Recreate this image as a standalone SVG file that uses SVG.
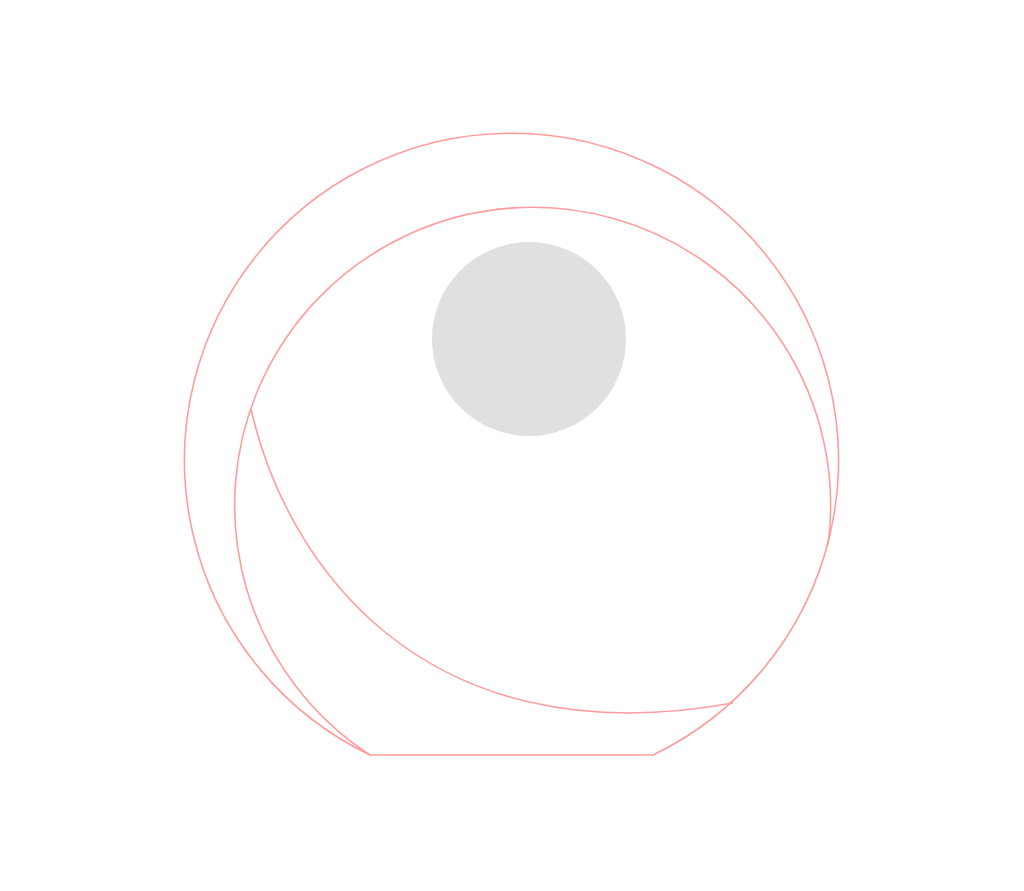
<svg xmlns="http://www.w3.org/2000/svg" width="1024" height="891" viewBox="0 0 1024 891">
<style>
.ln{fill:none;stroke:#ff9d9d;stroke-width:1.6;stroke-linejoin:round}
</style>
<rect width="1024" height="891" fill="#ffffff"/>
<g id="outline">
<path class="ln" d="M370,755 A327,327 0 1 1 653,755 Z"/>
<path class="ln" d="M370,755 A298,298 0 1 1 828,545"/>
<path class="ln" d="M251,409 C285,560 420,760 733,703"/>
</g>
<g id="ball">
<circle cx="529" cy="339" r="97" fill="#e0e0e0"/>
</g>
</svg>
